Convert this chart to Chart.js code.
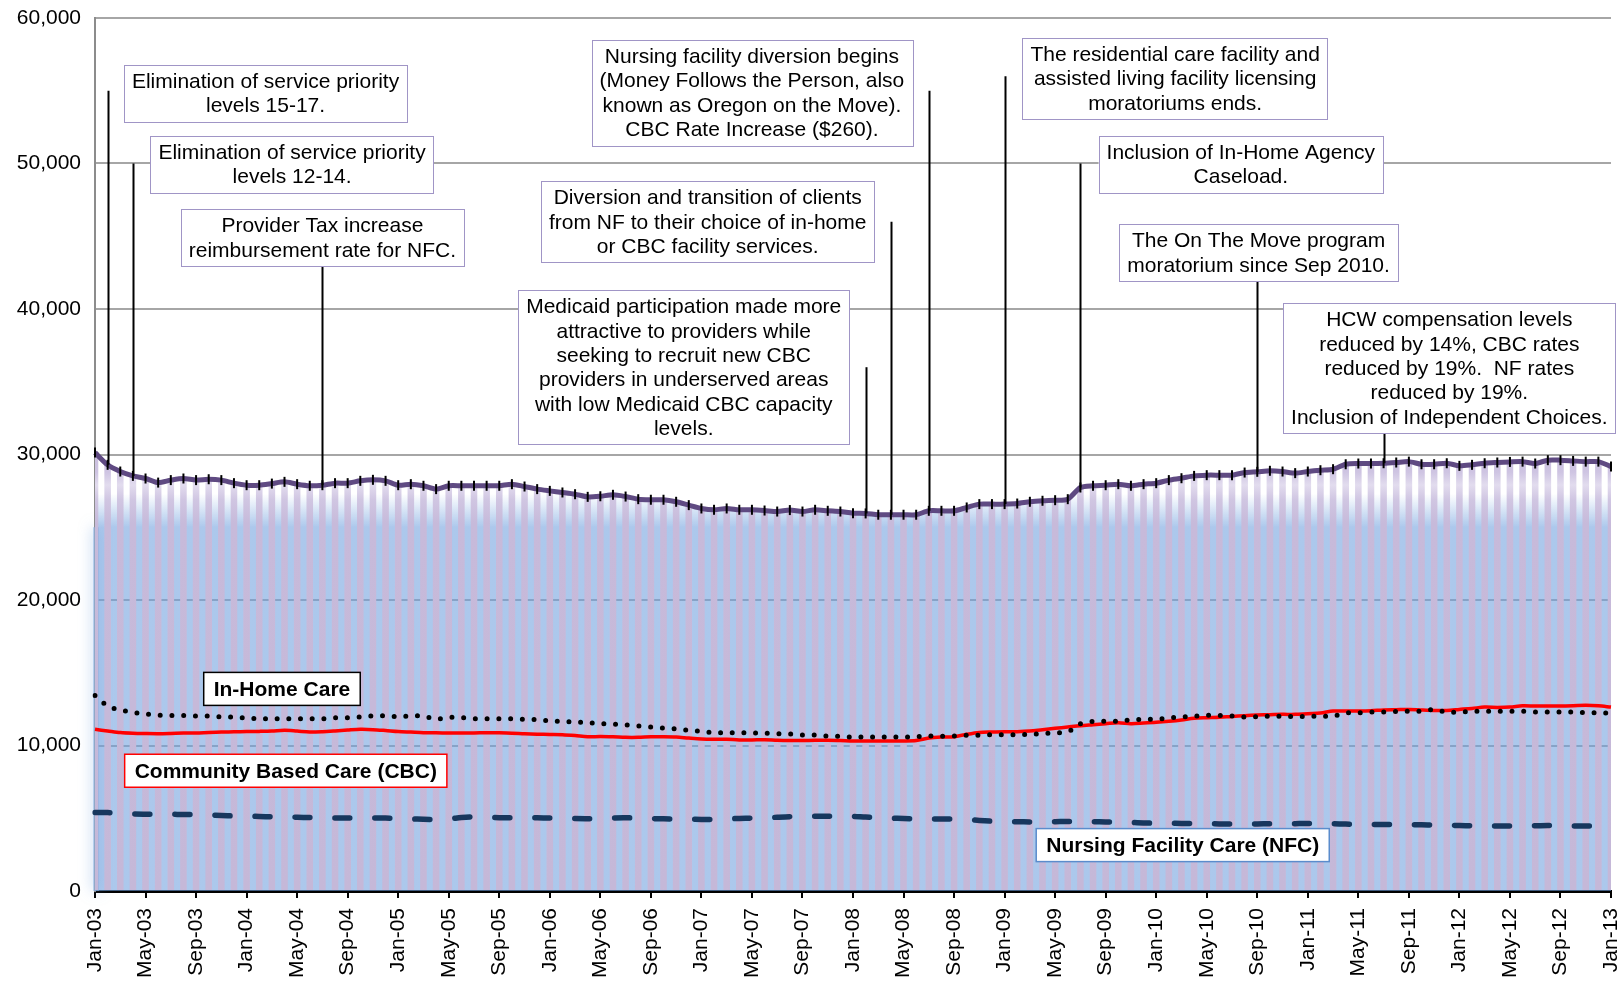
<!DOCTYPE html>
<html>
<head>
<meta charset="utf-8">
<script src="https://cdn.jsdelivr.net/npm/chart.js@4.4.1/dist/chart.umd.min.js"></script>
<style>
  body { margin: 0; background: #fff; }
  #wrap { width: 1621px; height: 988px; position: relative; }
</style>
</head>
<body>
<div id="wrap"><canvas id="caseloadChart"></canvas></div>
<script>
// Month labels Jan-03 .. Jan-13
const monthNames = ['Jan', 'Feb', 'Mar', 'Apr', 'May', 'Jun', 'Jul', 'Aug', 'Sep', 'Oct', 'Nov', 'Dec'];
const years = ['03', '04', '05', '06', '07', '08', '09', '10', '11', '12', '13'];
const months = [];
years.forEach((yr, i) => {
    monthNames.forEach((mn, j) => {
        if (i < years.length - 1 || j === 0) months.push(mn + '-' + yr);
    });
});

// Total caseload (bars + purple line)
const totalCases = [
    30130, 29290, 28830, 28530, 28350, 28070, 28240, 28350, 28240, 28300, 28240, 28030,
    27890, 27890, 28000, 28120, 27960, 27850, 27890, 28030, 28030, 28190, 28260, 28190,
    27890, 27960, 27850, 27620, 27850, 27850, 27850, 27850, 27850, 27960, 27800, 27620,
    27500, 27390, 27270, 27090, 27130, 27230, 27110, 26930, 26890, 26890, 26750, 26520,
    26290, 26200, 26290, 26200, 26200, 26150, 26080, 26180, 26080, 26200, 26130, 26080,
    25970, 25950, 25860, 25860, 25860, 25860, 26130, 26130, 26130, 26360, 26590, 26590,
    26590, 26630, 26750, 26820, 26860, 26930, 27730, 27850, 27890, 27960, 27850, 27960,
    28030, 28240, 28370, 28530, 28580, 28580, 28580, 28760, 28810, 28880, 28830, 28720,
    28830, 28920, 28990, 29330, 29380, 29380, 29400, 29450, 29510, 29330, 29330, 29400,
    29220, 29290, 29400, 29450, 29490, 29510, 29380, 29610, 29610, 29560, 29510, 29510,
    29170
];

// In-Home Care (dotted black)
const inHomeCare = [
    13440, 12710, 12440, 12280, 12160, 12090, 12070, 12070, 12020, 12020, 11960, 11960,
    11890, 11840, 11840, 11840, 11840, 11840, 11840, 11910, 11910, 11960, 12040, 12040,
    11980, 12040, 12020, 11820, 11930, 11910, 11840, 11840, 11840, 11840, 11800, 11780,
    11680, 11660, 11610, 11580, 11500, 11480, 11410, 11340, 11270, 11200, 11140, 11040,
    10970, 10880, 10880, 10880, 10860, 10840, 10810, 10790, 10720, 10720, 10650, 10630,
    10580, 10580, 10580, 10580, 10580, 10610, 10650, 10630, 10650, 10700, 10700, 10740,
    10740, 10740, 10770, 10810, 10880, 10930, 11500, 11660, 11660, 11680, 11750, 11800,
    11800, 11890, 11960, 12020, 12070, 12070, 12020, 11960, 11980, 12020, 12000, 12000,
    12000, 12020, 12020, 12230, 12250, 12300, 12300, 12330, 12350, 12370, 12460, 12300,
    12300, 12350, 12350, 12350, 12350, 12350, 12300, 12300, 12300, 12300, 12250, 12250,
    12210
];

// Community Based Care (solid red)
const communityCare = [
    11110, 11000, 10890, 10840, 10820, 10810, 10830, 10860, 10860, 10900, 10930, 10940,
    10960, 10970, 10990, 11040, 10990, 10930, 10950, 11000, 11060, 11110, 11090, 11030,
    10960, 10920, 10880, 10870, 10860, 10860, 10860, 10880, 10870, 10850, 10810, 10780,
    10760, 10740, 10680, 10600, 10620, 10600, 10560, 10560, 10600, 10600, 10580, 10510,
    10450, 10430, 10430, 10380, 10380, 10400, 10360, 10340, 10340, 10360, 10360, 10340,
    10310, 10310, 10310, 10310, 10310, 10340, 10510, 10580, 10600, 10770, 10900, 10930,
    10950, 10950, 10990, 11090, 11180, 11270, 11360, 11430, 11500, 11570, 11500, 11540,
    11590, 11660, 11750, 11870, 11910, 11940, 12000, 12050, 12090, 12120, 12140, 12140,
    12190, 12230, 12370, 12370, 12370, 12390, 12440, 12460, 12480, 12440, 12410, 12410,
    12480, 12550, 12640, 12620, 12640, 12730, 12710, 12710, 12710, 12730, 12760, 12730,
    12640
];

// Nursing Facility Care (dashed navy)
const nursingCare = [
    5400, 5390, 5340, 5290, 5280, 5280, 5270, 5260, 5260, 5230, 5190, 5160,
    5150, 5120, 5100, 5090, 5070, 5050, 5040, 5020, 5010, 5010, 5010, 5010,
    5000, 4960, 4930, 4920, 4950, 5050, 5100, 5060, 5040, 5040, 5040, 5030,
    5020, 5000, 4980, 4970, 4980, 5020, 5030, 5010, 4980, 4960, 4950, 4930,
    4920, 4920, 4950, 4990, 5010, 5020, 5070, 5110, 5120, 5140, 5140, 5140,
    5130, 5080, 5050, 5010, 4980, 4960, 4950, 4940, 4940, 4920, 4850, 4800,
    4780, 4760, 4750, 4750, 4760, 4780, 4770, 4760, 4750, 4740, 4710, 4680,
    4660, 4660, 4640, 4630, 4620, 4610, 4600, 4600, 4610, 4620, 4620, 4630,
    4640, 4630, 4620, 4600, 4580, 4570, 4570, 4570, 4560, 4550, 4530, 4520,
    4500, 4480, 4460, 4460, 4460, 4470, 4480, 4500, 4490, 4470, 4460, 4460,
    4450
];

const yTicks = [0, 10000, 20000, 30000, 40000, 50000, 60000];

// Event call-outs: box centre (month index), box top (cases), leader month and leader top
const eventNotes = [
    { at: 13.5, top: 56800, month: 1, from: 55000,
      lines: ['Elimination of service priority', 'levels 15-17.'] },
    { at: 15.6, top: 51900, month: 3, from: 50000,
      lines: ['Elimination of service priority', 'levels 12-14.'] },
    { at: 18.0, top: 46850, month: 18, from: null,
      lines: ['Provider Tax increase', 'reimbursement rate for NFC.'] },
    { at: 52.0, top: 58500, month: 66, from: 55000,
      lines: ['Nursing facility diversion begins', '(Money Follows the Person, also', 'known as Oregon on the Move).', 'CBC Rate Increase ($260).'] },
    { at: 48.5, top: 48770, month: 63, from: 46000,
      lines: ['Diversion and transition of clients', 'from NF to their choice of in-home', 'or CBC facility services.'] },
    { at: 46.6, top: 41290, month: 61, from: 36000,
      lines: ['Medicaid participation made more', 'attractive to providers while', 'seeking to recruit new CBC', 'providers in underserved areas', 'with low Medicaid CBC capacity', 'levels.'] },
    { at: 85.5, top: 58640, month: 72, from: 56000,
      lines: ['The residential care facility and', 'assisted living facility licensing', 'moratoriums ends.'] },
    { at: 90.7, top: 51920, month: 78, from: 50000,
      lines: ['Inclusion of In-Home Agency', 'Caseload.'] },
    { at: 92.1, top: 45820, month: 92, from: null,
      lines: ['The On The Move program', 'moratorium since Sep 2010.'] },
    { at: 107.2, top: 40400, month: 102, from: null,
      lines: ['HCW compensation levels', 'reduced by 14%, CBC rates', 'reduced by 19%.  NF rates', 'reduced by 19%.', 'Inclusion of Independent Choices.'] }
];

// Series name boxes: centre month, centre value, border colour
const seriesLabels = [
    { text: 'In-Home Care', at: 14.8, value: 13890, border: '#000000' },
    { text: 'Community Based Care (CBC)', at: 15.1, value: 8265, border: '#ff0000' },
    { text: 'Nursing Facility Care (NFC)', at: 86.1, value: 3155, border: '#5b8ccc' }
];

const FONT = '"Liberation Sans", Arial, sans-serif';

// vertical gradient helper, stops given as [value, colour]
function valueGradient(chart, stops) {
    const y = chart.scales.y;
    const p0 = y.getPixelForValue(y.max);
    const p1 = y.getPixelForValue(0);
    const g = chart.ctx.createLinearGradient(0, p0, 0, p1);
    stops.forEach(([v, c]) => {
        const f = (y.getPixelForValue(v) - p0) / (p1 - p0);
        g.addColorStop(Math.min(1, Math.max(0, f)), c);
    });
    return g;
}

function barFill(context) {
    const chart = context.chart;
    if (!chart.chartArea) return '#c8bcda';
    return valueGradient(chart, [
        [31000, 'rgb(200,188,220)'],
        [28800, 'rgb(206,196,226)'],
        [27900, 'rgb(226,220,238)'],
        [26900, 'rgb(208,198,226)'],
        [25300, 'rgb(199,186,218)'],
        [0, 'rgb(197,184,216)']
    ]);
}

function gapFill(context) {
    const chart = context.chart;
    if (!chart.chartArea) return 'rgba(112,160,222,0.58)';
    return valueGradient(chart, [
        [31000, 'rgba(112,160,222,0)'],
        [27300, 'rgba(112,160,222,0)'],
        [25000, 'rgba(112,160,222,0.58)'],
        [0, 'rgba(112,160,222,0.58)']
    ]);
}

// soft blue glow left of the plot, as in the original chart
const glowPlugin = {
    id: 'glow',
    beforeDatasetsDraw(chart) {
        const ctx = chart.ctx;
        const area = chart.chartArea;
        const y = chart.scales.y;
        const top = y.getPixelForValue(25000);
        ctx.save();
        ctx.shadowColor = 'rgba(112,160,222,0.9)';
        ctx.shadowBlur = 14;
        ctx.fillStyle = 'rgba(150,185,230,0.6)';
        ctx.fillRect(area.left - 2, top, 6, area.bottom - top);
        ctx.restore();
    }
};

const calloutPlugin = {
    id: 'callouts',
    afterDatasetsDraw(chart) {
        const ctx = chart.ctx;
        const x = chart.scales.x;
        const y = chart.scales.y;
        const lh = 24.4, padX = 8, padY = 4;
        ctx.save();
        ctx.font = '21px ' + FONT;
        eventNotes.forEach(n => {
            const widths = n.lines.map(t => ctx.measureText(t).width);
            const w = Math.max(...widths) + padX * 2;
            const h = n.lines.length * lh + padY * 2;
            const cx = x.getPixelForValue(n.at);
            const top = y.getPixelForValue(n.top);
            // leader line
            const lx = Math.round(x.getPixelForValue(n.month)) + 0.5;
            const ly0 = n.from === null ? top + h : y.getPixelForValue(n.from);
            const ly1 = y.getPixelForValue(totalCases[n.month]);
            ctx.strokeStyle = '#000';
            ctx.lineWidth = 2;
            ctx.beginPath();
            ctx.moveTo(lx, ly0);
            ctx.lineTo(lx, ly1);
            ctx.stroke();
            // box
            ctx.fillStyle = '#fff';
            ctx.fillRect(cx - w / 2, top, w, h);
            ctx.strokeStyle = '#a095c6';
            ctx.lineWidth = 1;
            ctx.strokeRect(Math.round(cx - w / 2) + 0.5, Math.round(top) + 0.5, Math.round(w), Math.round(h));
            ctx.fillStyle = '#000';
            ctx.textAlign = 'center';
            ctx.textBaseline = 'middle';
            n.lines.forEach((t, i) => {
                ctx.fillText(t, cx, top + padY + lh * (i + 0.5) + 1);
            });
        });
        ctx.font = 'bold 21px ' + FONT;
        seriesLabels.forEach(s => {
            const w = ctx.measureText(s.text).width + 20;
            const h = 33;
            const cx = x.getPixelForValue(s.at);
            const cy = y.getPixelForValue(s.value);
            ctx.fillStyle = '#fff';
            ctx.fillRect(cx - w / 2, cy - h / 2, w, h);
            ctx.strokeStyle = s.border;
            ctx.lineWidth = 1.5;
            ctx.strokeRect(cx - w / 2, cy - h / 2, w, h);
            ctx.fillStyle = '#000';
            ctx.textAlign = 'center';
            ctx.textBaseline = 'middle';
            ctx.fillText(s.text, cx, cy + 1);
        });
        ctx.restore();
    }
};

const chartCtx = document.getElementById('caseloadChart').getContext('2d');
new Chart(chartCtx, {
    type: 'bar',
    data: {
        labels: months,
        datasets: [
            {
                type: 'line',
                label: 'Total area',
                data: totalCases,
                fill: 'origin',
                backgroundColor: gapFill,
                borderWidth: 0,
                pointRadius: 0,
                tension: 0.25,
                order: 6
            },
            {
                type: 'bar',
                label: 'Total',
                data: totalCases,
                backgroundColor: barFill,
                borderWidth: 0,
                barPercentage: 0.52,
                categoryPercentage: 1,
                order: 5
            },
            {
                type: 'line',
                label: 'Nursing Facility Care (NFC)',
                data: nursingCare,
                borderColor: '#17375e',
                borderWidth: 5.5,
                borderDash: [15, 25],
                borderCapStyle: 'round',
                pointRadius: 0,
                tension: 0.3,
                fill: false,
                order: 4
            },
            {
                type: 'line',
                label: 'Community Based Care (CBC)',
                data: communityCare,
                borderColor: '#ff0000',
                borderWidth: 3.5,
                pointRadius: 0,
                tension: 0.3,
                fill: false,
                order: 3
            },
            {
                type: 'line',
                label: 'In-Home Care',
                data: inHomeCare,
                borderColor: '#000000',
                borderWidth: 5,
                borderDash: [0, 11.7],
                borderCapStyle: 'round',
                pointRadius: 0,
                tension: 0.3,
                fill: false,
                order: 2
            },
            {
                type: 'line',
                label: 'Total caseload',
                data: totalCases,
                borderColor: '#5f4a82',
                borderWidth: 5,
                tension: 0.25,
                pointStyle: 'line',
                pointRotation: 90,
                pointRadius: 5,
                pointBorderColor: '#000',
                pointBorderWidth: 2,
                pointBackgroundColor: '#000',
                fill: false,
                order: 1
            }
        ]
    },
    options: {
        responsive: true,
        maintainAspectRatio: false,
        animation: false,
        layout: { padding: { top: 18, right: 10, left: 0, bottom: 0 } },
        plugins: {
            legend: { display: false },
            tooltip: { enabled: false }
        },
        scales: {
            x: {
                offset: false,
                grid: {
                    offset: false,
                    drawOnChartArea: false,
                    drawTicks: true,
                    tickLength: 7,
                    lineWidth: 2,
                    color: c => (c.index % 4 === 0 ? '#000' : 'rgba(0,0,0,0)')
                },
                border: { color: '#000', width: 3 },
                ticks: {
                    autoSkip: false,
                    minRotation: 90,
                    maxRotation: 90,
                    padding: 10,
                    color: '#000',
                    font: { family: FONT, size: 21 },
                    callback: (v, i) => (i % 4 === 0 ? months[i] : '')
                },
                afterFit: s => {
                    s.height = 97;
                    s.paddingLeft = 0;
                    s.paddingRight = 0;
                }
            },
            y: {
                min: 0,
                max: 60000,
                afterBuildTicks: s => { s.ticks = yTicks.map(v => ({ value: v })); },
                grid: {
                    color: '#a6a6a6',
                    lineWidth: 2,
                    drawTicks: false
                },
                border: { color: '#8c8c8c', width: 2 },
                ticks: {
                    padding: 14,
                    color: '#000',
                    font: { family: FONT, size: 21 },
                    callback: v => v.toLocaleString('en-US')
                },
                afterFit: s => {
                    s.width = 95;
                    s.paddingTop = 0;
                    s.paddingBottom = 0;
                }
            }
        }
    },
    plugins: [glowPlugin, calloutPlugin]
});
</script>
</body>
</html>
